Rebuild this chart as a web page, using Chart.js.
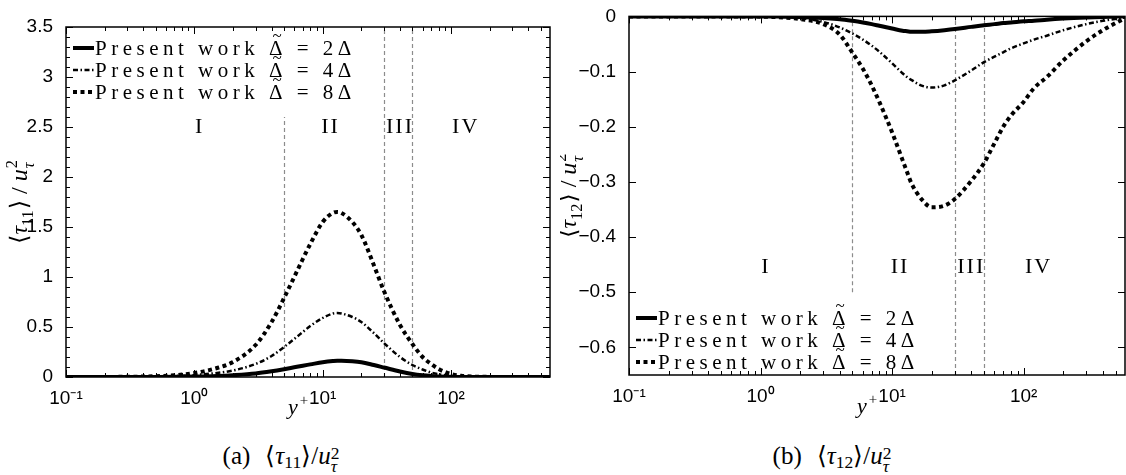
<!DOCTYPE html>
<html>
<head>
<meta charset="utf-8">
<script src="https://cdn.jsdelivr.net/npm/chart.js@4.4.1/dist/chart.umd.min.js"></script>
<style>
  body { margin: 0; background: #fff; }
  #wrap { position: relative; width: 1126px; height: 475px; overflow: hidden; }
  #wrap canvas { position: absolute; top: 0; }
  #c11 { left: 0; }
  #c12 { left: 560px; }
  .caption { position: absolute; top: 442px; transform: translateX(-50%); font-family: "Liberation Serif", serif; font-size: 25px; white-space: nowrap; line-height: 27px; }
  .caption .gap { display: inline-block; width: 15px; }
  .caption sub { font-size: 0.7em; vertical-align: -0.25em; }
  .ss { display: inline-block; vertical-align: -0.45em; line-height: 0.75em; font-size: 0.7em; }
  .ss span { display: block; }
</style>
</head>
<body>
<div id="wrap">
  <canvas id="c11" width="560" height="420"></canvas>
  <canvas id="c12" width="566" height="420"></canvas>
  <div class="caption" style="left:281px">(a)<span class="gap"></span>⟨<i>τ</i><sub>11</sub>⟩/<i>u</i><span class="ss"><span>2</span><span><i>τ</i></span></span></div>
  <div class="caption" style="left:832px">(b)<span class="gap"></span>⟨<i>τ</i><sub>12</sub>⟩/<i>u</i><span class="ss"><span>2</span><span><i>τ</i></span></span></div>
</div>
<script>
// Data (y+ is shared by all curves)
const yPlus = [0.1, 0.2, 0.3, 0.5, 0.7, 1, 1.5, 2, 3, 4, 5, 6, 7, 8, 10, 12, 13, 14, 17, 20, 25, 30, 40, 50, 60, 70, 80, 100, 120, 150, 200, 300, 400, 590];

// <tau11>/u_tau^2
const tau11_2 = [0, 0, 0, 0.001, 0.002, 0.004, 0.01, 0.018, 0.035, 0.057, 0.078, 0.097, 0.113, 0.126, 0.148, 0.16, 0.163, 0.163, 0.158, 0.148, 0.12, 0.095, 0.055, 0.03, 0.017, 0.01, 0.006, 0.002, 0.001, 0, 0, 0, 0, 0];
const tau11_4 = [0, 0.001, 0.002, 0.005, 0.01, 0.02, 0.04, 0.065, 0.13, 0.21, 0.30, 0.38, 0.45, 0.51, 0.59, 0.635, 0.64, 0.635, 0.6, 0.55, 0.44, 0.34, 0.2, 0.12, 0.075, 0.045, 0.028, 0.01, 0.004, 0.001, 0, 0, 0, 0];
const tau11_8 = [0, 0.001, 0.002, 0.008, 0.018, 0.04, 0.09, 0.15, 0.32, 0.55, 0.79, 1.0, 1.18, 1.33, 1.55, 1.64, 1.65, 1.64, 1.55, 1.42, 1.12, 0.86, 0.52, 0.33, 0.2, 0.13, 0.08, 0.03, 0.012, 0.004, 0.001, 0, 0, 0];

// <tau12>/u_tau^2
const tau12_2 = [0, 0, 0, 0, 0, 0, -0.0005, -0.001, -0.003, -0.005, -0.008, -0.011, -0.014, -0.017, -0.022, -0.026, -0.027, -0.028, -0.028, -0.027, -0.025, -0.023, -0.019, -0.016, -0.014, -0.012, -0.011, -0.009, -0.008, -0.006, -0.004, -0.002, -0.001, 0];
const tau12_4 = [0, 0, 0, 0, 0, -0.0005, -0.001, -0.003, -0.01, -0.02, -0.031, -0.042, -0.053, -0.064, -0.085, -0.103, -0.11, -0.115, -0.126, -0.129, -0.125, -0.116, -0.098, -0.083, -0.073, -0.065, -0.058, -0.049, -0.042, -0.035, -0.025, -0.014, -0.008, -0.002];
const tau12_8 = [0, 0, 0, 0, 0, -0.0005, -0.002, -0.005, -0.014, -0.033, -0.066, -0.095, -0.125, -0.155, -0.21, -0.26, -0.282, -0.302, -0.333, -0.346, -0.343, -0.331, -0.298, -0.266, -0.23, -0.2, -0.18, -0.155, -0.13, -0.11, -0.08, -0.045, -0.025, -0.003];

const seriesNames = ['Present work \u0394\u0303 = 2\u0394', 'Present work \u0394\u0303 = 4\u0394', 'Present work \u0394\u0303 = 8\u0394'];

const xTicks = [0.1, 1, 10, 100];
const xTickLabels = ['10\u207B\u00B9', '10\u2070', '10\u00B9', '10\u00B2'];
const yTicks11 = [0, 0.5, 1, 1.5, 2, 2.5, 3, 3.5];
const yTicks12 = [-0.6, -0.5, -0.4, -0.3, -0.2, -0.1, 0];

// Near-wall regions
const zoneBounds = [5, 30, 50];
const zoneNames = ['I', 'II', 'III', 'IV'];
const zoneLabelX = [1.1, 11.5, 40, 130];

const SERIF = '"Liberation Serif", "DejaVu Serif", serif';
const SANS = '"Liberation Sans", Arial, sans-serif';

const lineStyles = [
    { borderWidth: 4, borderDash: [] },
    { borderWidth: 2.5, borderDash: [5, 2.5, 1.5, 2.5] },
    { borderWidth: 4, borderDash: [4, 3.5] }
];

// draw a little run of math-ish text centred on (0, 0)
function drawRuns(ctx, runs, size) {
    const small = size * 0.68;
    const fontOf = (r, fs) => (r.it ? 'italic ' : '') + fs + 'px ' + SERIF;
    const widths = runs.map(r => {
        if (r.stack) {
            ctx.font = small + 'px ' + SERIF;
            const w1 = ctx.measureText(r.stack[0]).width;
            ctx.font = 'italic ' + small + 'px ' + SERIF;
            return Math.max(w1, ctx.measureText(r.stack[1]).width) + 1;
        }
        ctx.font = fontOf(r, r.sub || r.sup ? small : size);
        return ctx.measureText(r.t).width + (r.pad || 0);
    });
    const total = widths.reduce((a, b) => a + b, 0);
    let cx = -total / 2;
    ctx.textAlign = 'left';
    ctx.textBaseline = 'alphabetic';
    runs.forEach((r, i) => {
        if (r.stack) {
            ctx.font = small + 'px ' + SERIF;
            ctx.fillText(r.stack[0], cx + 1, -size * 0.42);
            ctx.font = 'italic ' + small + 'px ' + SERIF;
            ctx.fillText(r.stack[1], cx + 1, size * 0.28);
        } else if (r.sub) {
            ctx.font = fontOf(r, small);
            ctx.fillText(r.t, cx, size * 0.25);
        } else if (r.sup) {
            ctx.font = fontOf(r, small);
            ctx.fillText(r.t, cx, -size * 0.42);
        } else {
            ctx.font = fontOf(r, size);
            ctx.fillText(r.t, cx, 0);
        }
        cx += widths[i];
    });
}

// legend label: the tilde over the first Delta is drawn by hand
function drawLegendLabel(ctx, label, x, y) {
    const [head, tail] = label.split('\u0303');
    ctx.font = '21px ' + SERIF;
    ctx.textAlign = 'left';
    ctx.textBaseline = 'middle';
    ctx.letterSpacing = '4.5px';
    ctx.fillText(head, x, y);
    const w1 = ctx.measureText(head).width;
    const wd = ctx.measureText('\u0394').width;
    ctx.fillText(tail, x + w1, y);
    ctx.letterSpacing = '0px';
    ctx.font = '17px ' + SERIF;
    ctx.textAlign = 'center';
    ctx.fillText('~', x + w1 - wd / 2 - 1, y - 12);
}

const paperDeco = {
    id: 'paperDeco',
    beforeDatasetsDraw(chart, args, o) {
        const { ctx, scales: { x, y } } = chart;
        ctx.save();
        ctx.strokeStyle = '#8c8c8c';
        ctx.lineWidth = 1.2;
        ctx.setLineDash([4, 3]);
        zoneBounds.forEach((b, i) => {
            const px = Math.round(x.getPixelForValue(b)) + 0.5;
            ctx.beginPath();
            ctx.moveTo(px, y.getPixelForValue(o.boundFrom[i]));
            ctx.lineTo(px, y.getPixelForValue(o.boundTo[i]));
            ctx.stroke();
        });
        ctx.setLineDash([]);
        ctx.fillStyle = '#000';
        ctx.font = '22px ' + SERIF;
        ctx.textAlign = 'center';
        ctx.textBaseline = 'middle';
        ctx.letterSpacing = '2px';
        zoneNames.forEach((t, i) => {
            ctx.fillText(t, x.getPixelForValue(zoneLabelX[i]), y.getPixelForValue(o.zoneY));
        });
        ctx.restore();
    },
    afterDraw(chart, args, o) {
        const { ctx, chartArea: a, scales: { x, y } } = chart;
        ctx.save();
        // frame
        ctx.strokeStyle = '#000';
        ctx.lineWidth = 1.5;
        ctx.strokeRect(a.left, a.top, a.right - a.left, a.bottom - a.top);

        // inward ticks, x
        ctx.lineWidth = 1;
        ctx.beginPath();
        for (let k = -1; k <= 2; k++) {
            for (let d = 1; d <= 9; d++) {
                const v = d * Math.pow(10, k);
                if (v > x.max) continue;
                const px = Math.round(x.getPixelForValue(v)) + 0.5;
                const len = d === 1 ? 7 : 4;
                ctx.moveTo(px, a.bottom); ctx.lineTo(px, a.bottom - len);
                ctx.moveTo(px, a.top); ctx.lineTo(px, a.top + len);
            }
        }
        // inward ticks, y
        o.yMajor.forEach(v => {
            const py = Math.round(y.getPixelForValue(v)) + 0.5;
            ctx.moveTo(a.left, py); ctx.lineTo(a.left + 7, py);
            ctx.moveTo(a.right, py); ctx.lineTo(a.right - 7, py);
        });
        o.yMinor.forEach(v => {
            const py = Math.round(y.getPixelForValue(v)) + 0.5;
            ctx.moveTo(a.left, py); ctx.lineTo(a.left + 4, py);
            ctx.moveTo(a.right, py); ctx.lineTo(a.right - 4, py);
        });
        ctx.stroke();

        // legend
        const lx = a.left + 7;
        const ly0 = o.legendTop ? a.top + 21 : a.bottom - 57;
        chart.data.datasets.forEach((ds, i) => {
            const yy = ly0 + i * 22;
            ctx.strokeStyle = '#000';
            ctx.lineWidth = ds.borderWidth;
            ctx.setLineDash(ds.borderDash);
            ctx.beginPath();
            ctx.moveTo(lx, yy); ctx.lineTo(lx + 21, yy);
            ctx.stroke();
            ctx.setLineDash([]);
            ctx.fillStyle = '#000';
            drawLegendLabel(ctx, ds.label, lx + 22, yy + 1);
        });

        // axis titles
        ctx.fillStyle = '#000';
        ctx.save();
        ctx.translate(o.yTitleX, (a.top + a.bottom) / 2);
        ctx.rotate(-Math.PI / 2);
        drawRuns(ctx, o.yTitle, 24);
        ctx.restore();
        ctx.save();
        ctx.translate((a.left + a.right) / 2 - 10, o.xTitleY);
        drawRuns(ctx, [{ t: 'y', it: true, pad: 2 }, { t: '+', sup: true }], 22);
        ctx.restore();
        ctx.restore();
    }
};

function makeChart(id, series, yMin, yMax, yTicks, deco, box) {
    const datasets = series.map((vals, i) => ({
        label: seriesNames[i],
        data: yPlus.map((v, j) => ({ x: v, y: vals[j] })),
        borderColor: '#000',
        borderWidth: lineStyles[i].borderWidth,
        borderDash: lineStyles[i].borderDash,
        borderCapStyle: 'butt',
        pointRadius: 0,
        fill: false,
        cubicInterpolationMode: 'monotone'
    }));
    return new Chart(document.getElementById(id), {
        type: 'line',
        data: { datasets },
        plugins: [paperDeco],
        options: {
            responsive: false,
            devicePixelRatio: 1,
            animation: false,
            events: [],
            layout: { padding: { left: 0, top: box.top, right: box.right, bottom: 0 } },
            scales: {
                x: {
                    type: 'logarithmic',
                    min: 0.1,
                    max: 590,
                    afterBuildTicks: s => { s.ticks = xTicks.map(v => ({ value: v })); },
                    afterFit: s => { s.height = box.xh; },
                    grid: { display: false },
                    border: { display: false },
                    ticks: {
                        color: '#000',
                        font: { family: SANS, size: 19 },
                        padding: 2,
                        maxRotation: 0,
                        autoSkip: false,
                        callback: v => {
                            const i = xTicks.findIndex(t => Math.abs(t - v) < 1e-9);
                            return i >= 0 ? xTickLabels[i] : '';
                        }
                    }
                },
                y: {
                    min: yMin,
                    max: yMax,
                    afterBuildTicks: s => { s.ticks = yTicks.map(v => ({ value: v })); },
                    afterFit: s => { s.width = box.yw; },
                    grid: { display: false },
                    border: { display: false },
                    ticks: {
                        color: '#000',
                        font: { family: SANS, size: 19 },
                        padding: 5,
                        callback: v => v < 0 ? '\u2212' + Math.abs(v) : String(v)
                    }
                }
            },
            plugins: {
                legend: { display: false },
                tooltip: { enabled: false },
                paperDeco: deco
            }
        }
    });
}

const titleRuns = sub => [
    { t: '\u27E8' }, { t: '\u03C4', it: true }, { t: sub, sub: true, pad: 1 }, { t: '\u27E9 / ' },
    { t: 'u', it: true }, { stack: ['2', '\u03C4'] }
];

const minor11 = [];
for (let v = 0.1; v < 3.5; v += 0.1) {
    const r = Math.round(v * 10) / 10;
    if (Math.round(r * 10) % 5 !== 0) minor11.push(r);
}

makeChart('c11', [tau11_2, tau11_4, tau11_8], 0, 3.5, yTicks11, {
    boundFrom: [0, 0, 0], boundTo: [2.6, 3.5, 3.5], zoneY: 2.5,
    legendTop: true, yMajor: yTicks11, yMinor: minor11,
    yTitle: titleRuns('11'), yTitleX: 27, xTitleY: 414
}, { top: 27, right: 10, xh: 43, yw: 66 });

makeChart('c12', [tau12_2, tau12_4, tau12_8], -0.65, 0, yTicks12, {
    boundFrom: [-0.5, -0.65, -0.65], boundTo: [0, 0, 0], zoneY: -0.455,
    legendTop: false, yMajor: yTicks12, yMinor: [],
    yTitle: titleRuns('12'), yTitleX: 16, xTitleY: 413
}, { top: 16, right: 1, xh: 45, yw: 69 });
</script>
</body>
</html>
